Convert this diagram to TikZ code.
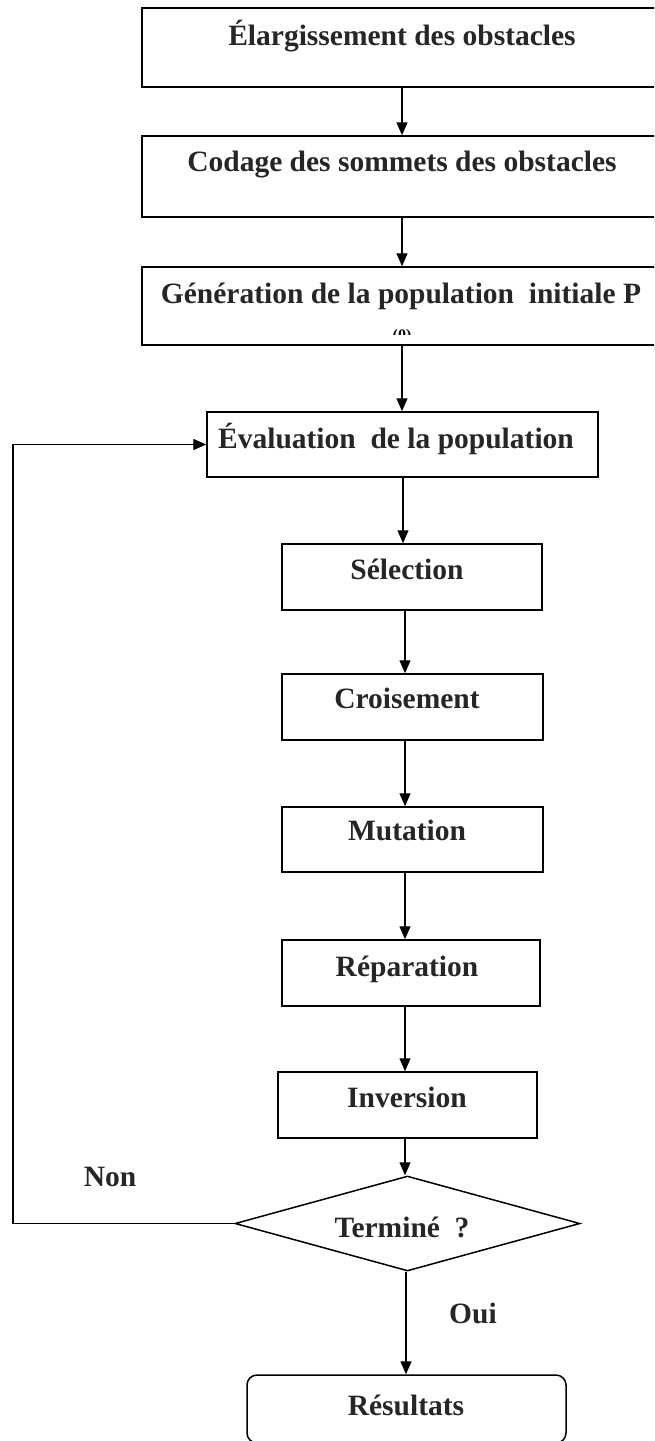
\documentclass[tikz,border=0pt]{standalone}
\usepackage{fontspec}
\setmainfont{Liberation Serif}
\usetikzlibrary{arrows.meta,shapes.geometric}
\tikzset{
  box/.style={draw, line width=1.5pt, inner sep=0pt},
  txt/.style={font=\fontsize{29.5}{33}\selectfont\bfseries, anchor=base, inner sep=0pt, text=black!85},
  arr/.style={-{Triangle[length=13pt,width=11pt]}, line width=1.3pt}
}
\begin{document}
\begin{tikzpicture}[x=1pt,y=-1pt]
\useasboundingbox (0,0) rectangle (654,1441);
\clip (0,0) rectangle (654,1441);
% boxes
\node[box, minimum width=520pt, minimum height=79pt] (b1) at (402,47.5) {};
\node[box, minimum width=520pt, minimum height=81pt] (b2) at (402,176.5) {};
\node[box, minimum width=520pt, minimum height=78pt] (b3) at (402,306) {};
\node[box, minimum width=391pt, minimum height=65pt] (ev) at (402.5,444.5) {};
\node[box, minimum width=260pt, minimum height=66pt] (sel) at (412,577) {};
\node[box, minimum width=261pt, minimum height=66pt] (cro) at (412.5,707) {};
\node[box, minimum width=261pt, minimum height=65pt] (mut) at (412.5,839.5) {};
\node[box, minimum width=258pt, minimum height=66pt] (rep) at (411,973) {};
\node[box, minimum width=259pt, minimum height=66pt] (inv) at (407.5,1105) {};
\node[box, shape=diamond, minimum width=345pt, minimum height=95pt] (dia) at (407.5,1223.5) {};
\node[box, rounded corners=10pt, minimum width=319pt, minimum height=68pt] (res) at (406.5,1409) {};
% texts
\node[txt] (t1) at (402,45) {Élargissement des obstacles};
\node[txt] (t2) at (402,171) {Codage des sommets des obstacles};
\node[txt] (t3) at (401,303) {Génération de la population\ \ initiale P};
\begin{scope}
  \clip (142,329) rectangle (662,334);
  \node[font=\fontsize{16}{18}\selectfont\bfseries, anchor=north, inner sep=0pt] (t3b) at (402,329) {(0)};
\end{scope}
\node[txt] (t4) at (396,448) {Évaluation\ \ de la population};
\node[txt] (t5) at (407,579) {Sélection};
\node[txt] (t6) at (407,708) {Croisement};
\node[txt] (t7) at (407,840) {Mutation};
\node[txt] (t8) at (407,976) {Réparation};
\node[txt] (t9) at (407,1107) {Inversion};
\node[txt] (t10) at (402,1237) {Terminé\ \ ?};
\node[txt] (t11) at (406,1415) {Résultats};
\node[txt] (non) at (110,1186) {Non};
\node[txt] (oui) at (473,1323) {Oui};
% arrows
\coordinate (xa) at (402,0);
\coordinate (xb) at (403,0);
\coordinate (xc) at (405,0);
\coordinate (xd) at (406,0);
\draw[arr] (b1.south -| xa) -- (b2.north -| xa);
\draw[arr] (b2.south -| xa) -- (b3.north -| xa);
\draw[arr] (b3.south -| xa) -- (ev.north -| xa);
\draw[arr] (ev.south -| xb) -- (sel.north -| xb);
\draw[arr] (sel.south -| xc) -- (cro.north -| xc);
\draw[arr] (cro.south -| xc) -- (mut.north -| xc);
\draw[arr] (mut.south -| xc) -- (rep.north -| xc);
\draw[arr] (rep.south -| xc) -- (inv.north -| xc);
\draw[arr] (inv.south -| xc) -- (dia.north -| xc);
\draw[arr] (dia.south -| xd) -- (res.north -| xd);
\coordinate (fl) at (13,0);
\draw[arr] (dia.west) -- (dia.west -| fl) -- (ev.west -| fl) -- (ev.west);
\end{tikzpicture}
\end{document}
